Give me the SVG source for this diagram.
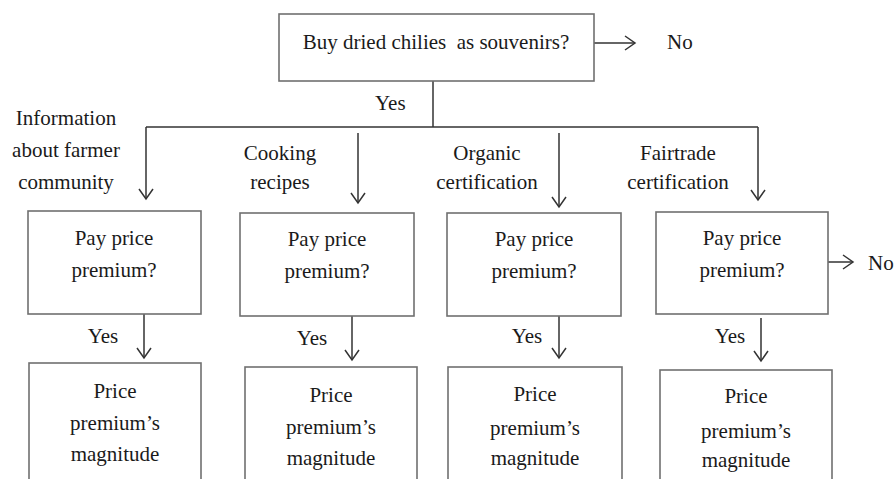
<svg xmlns="http://www.w3.org/2000/svg" width="894" height="479" viewBox="0 0 894 479" font-family="Liberation Serif, Times New Roman, Tinos, serif">
<defs>
<style>
.box{fill:#fff;stroke:#707070;stroke-width:1.6}
.ln{fill:none;stroke:#333;stroke-width:1.5}
text{font-size:21px;fill:#1a1a1a;text-anchor:middle}
text.s{text-anchor:start}
</style>
<marker id="ah" markerUnits="userSpaceOnUse" markerWidth="14" markerHeight="18" refX="11" refY="8" orient="auto">
<path d="M1,1 L11,8 L1,15" fill="none" stroke="#333" stroke-width="1.5"/>
</marker>
</defs>
<rect width="894" height="479" fill="#fff"/>
<g id="connectors">
<line class="ln" x1="594" y1="43" x2="635" y2="43" marker-end="url(#ah)"/>
<polyline class="ln" points="433,81 433,127"/>
<polyline class="ln" points="146,127 758,127"/>
<line class="ln" x1="146" y1="127" x2="146" y2="199" marker-end="url(#ah)"/>
<line class="ln" x1="358" y1="133" x2="358" y2="203" marker-end="url(#ah)"/>
<line class="ln" x1="559" y1="133" x2="559" y2="207" marker-end="url(#ah)"/>
<line class="ln" x1="758" y1="127" x2="758" y2="200" marker-end="url(#ah)"/>
<line class="ln" x1="144" y1="314" x2="144" y2="358" marker-end="url(#ah)"/>
<line class="ln" x1="352" y1="316" x2="352" y2="360" marker-end="url(#ah)"/>
<line class="ln" x1="559" y1="316" x2="559" y2="358" marker-end="url(#ah)"/>
<line class="ln" x1="761" y1="318" x2="761" y2="361" marker-end="url(#ah)"/>
<line class="ln" x1="828" y1="262" x2="853" y2="262" marker-end="url(#ah)"/>
<text class="s" x="667" y="49">No</text>
<text class="s" x="375" y="110">Yes</text>
<text class="s" x="868" y="270">No</text>
<text x="103" y="343">Yes</text>
<text x="312" y="345">Yes</text>
<text x="527" y="343">Yes</text>
<text x="730" y="343">Yes</text>
<text x="66" y="125">Information</text>
<text x="66" y="157">about farmer</text>
<text x="66" y="189">community</text>
<text x="280" y="160">Cooking</text>
<text x="280" y="189">recipes</text>
<text x="487" y="160">Organic</text>
<text x="487" y="189">certification</text>
<text x="678" y="160">Fairtrade</text>
<text x="678" y="189">certification</text>
</g>
<g id="n-top">
<rect class="box" x="279" y="14" width="315" height="67"/>
<text x="436" y="49" xml:space="preserve">Buy dried chilies  as souvenirs?</text>
</g>
<g id="n-pay1">
<rect class="box" x="28" y="211" width="173" height="103"/>
<text x="114" y="245">Pay price</text>
<text x="114" y="277">premium?</text>
</g>
<g id="n-pay2">
<rect class="box" x="240" y="213" width="174" height="103"/>
<text x="327" y="246">Pay price</text>
<text x="327" y="278">premium?</text>
</g>
<g id="n-pay3">
<rect class="box" x="447" y="213" width="174" height="103"/>
<text x="534" y="246">Pay price</text>
<text x="534" y="278">premium?</text>
</g>
<g id="n-pay4">
<rect class="box" x="656" y="212" width="172" height="102"/>
<text x="742" y="245">Pay price</text>
<text x="742" y="277">premium?</text>
</g>
<g id="n-mag1">
<rect class="box" x="29" y="363" width="172" height="130"/>
<text x="115" y="398">Price</text>
<text x="115" y="430">premium’s</text>
<text x="115" y="461">magnitude</text>
</g>
<g id="n-mag2">
<rect class="box" x="245" y="367" width="172" height="130"/>
<text x="331" y="402">Price</text>
<text x="331" y="434">premium’s</text>
<text x="331" y="465">magnitude</text>
</g>
<g id="n-mag3">
<rect class="box" x="448" y="367" width="174" height="130"/>
<text x="535" y="401">Price</text>
<text x="535" y="435">premium’s</text>
<text x="535" y="465">magnitude</text>
</g>
<g id="n-mag4">
<rect class="box" x="660" y="370" width="172" height="130"/>
<text x="746" y="403">Price</text>
<text x="746" y="438">premium’s</text>
<text x="746" y="467">magnitude</text>
</g>
</svg>
